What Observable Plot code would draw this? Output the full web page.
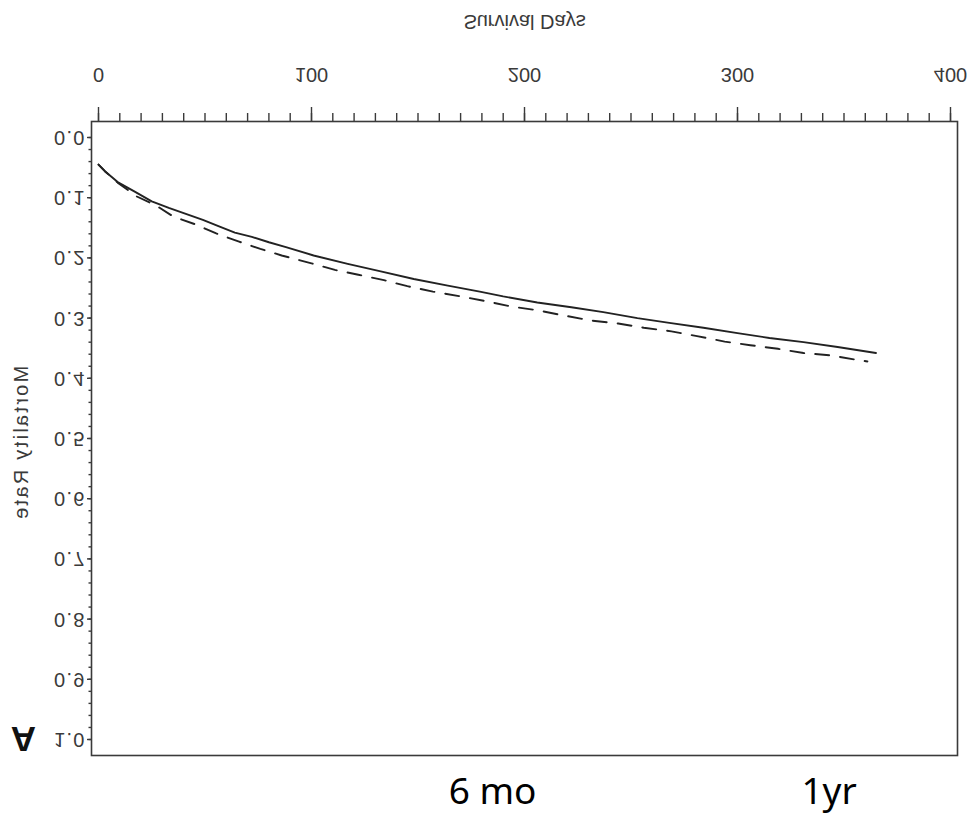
<!DOCTYPE html>
<html>
<head>
<meta charset="utf-8">
<script src="https://cdn.jsdelivr.net/npm/d3@7"></script>
<script src="https://cdn.jsdelivr.net/npm/@observablehq/plot@0.6"></script>
<style>
  html, body { margin: 0; padding: 0; background: #fff; }
  #chart { position: relative; width: 973px; height: 814px; }
  #chart svg { display: block; }
  #chart svg.notes { position: absolute; left: 0; top: 757px; background: transparent; }
</style>
</head>
<body>
<div id="chart"></div>
<script>
// Survival days on x, cumulative mortality on y (two groups)
const solidDays = [0, 3, 9, 17, 25, 33, 41, 49, 56, 64, 72, 80, 88, 101, 117, 132, 148, 164, 179, 190, 206, 222, 237, 253, 268, 284, 300, 315, 331, 347, 365];
const solidRate = [0.045, 0.056, 0.074, 0.090, 0.106, 0.117, 0.127, 0.137, 0.147, 0.158, 0.165, 0.174, 0.182, 0.196, 0.210, 0.222, 0.235, 0.246, 0.256, 0.264, 0.274, 0.282, 0.290, 0.300, 0.308, 0.316, 0.325, 0.333, 0.340, 0.348, 0.358];

const dashedDays = [0, 3, 9, 18, 27, 35, 46, 55, 66, 76, 86, 100, 111, 122, 134, 145, 157, 170, 182, 194, 206, 219, 231, 244, 256, 269, 281, 294, 306, 319, 331, 344, 357, 361];
const dashedRate = [0.045, 0.056, 0.075, 0.098, 0.113, 0.131, 0.145, 0.159, 0.173, 0.185, 0.196, 0.209, 0.220, 0.228, 0.237, 0.247, 0.256, 0.264, 0.272, 0.281, 0.287, 0.296, 0.304, 0.309, 0.316, 0.322, 0.330, 0.339, 0.345, 0.351, 0.358, 0.362, 0.370, 0.372];

const xMajorTicks = [0, 100, 200, 300, 400];
const xMinorTicks = d3.range(0, 401, 10);
const yMajorTicks = [0, 0.1, 0.2, 0.3, 0.4, 0.5, 0.6, 0.7, 0.8, 0.9, 1.0];
const yMinorTicks = d3.range(0, 51).map(i => i / 50);

const markerDays = [185, 343];
const markerLabels = ["6 mo", "1yr"];

const solid = solidDays.map((d, i) => ({day: d, rate: solidRate[i]}));
const dashed = dashedDays.map((d, i) => ({day: d, rate: dashedRate[i]}));
const markers = markerDays.map((d, i) => ({day: d, label: markerLabels[i]}));

const font = "Liberation Sans, Arial, sans-serif";
const ink = "#3a3a3a";
const yFormat = d3.format(".1f");

const main = Plot.plot({
  width: 973,
  height: 770,
  marginTop: 14,
  marginBottom: 122,
  marginLeft: 91,
  marginRight: 16,
  style: {fontFamily: font, fontSize: "20px", color: ink, background: "white"},
  x: {domain: [0, 400], inset: 7},
  y: {domain: [0, 1], inset: 16},
  marks: [
    Plot.frame({stroke: ink, strokeWidth: 1.6}),
    Plot.axisX(xMinorTicks, {tickSize: 9, fill: "none", strokeWidth: 1.4, label: null}),
    Plot.axisX(xMajorTicks, {tickSize: 15, tickPadding: 24, strokeWidth: 1.4, fontSize: 20, label: null}),
    Plot.axisY(yMinorTicks, {tickSize: 2.5, fill: "none", strokeWidth: 1.4, label: null}),
    Plot.axisY(yMajorTicks, {tickSize: 4, tickPadding: 2, tickFormat: yFormat, fontSize: 20, strokeWidth: 1.4, label: null}),
    Plot.text(["Survival Days"], {frameAnchor: "bottom", lineAnchor: "top", dy: 92, fontSize: 20, fill: ink}),
    Plot.text(["Mortality Rate"], {frameAnchor: "left", textAnchor: "middle", rotate: -90, dx: -70, dy: -5, fontSize: 20, fill: ink}),
    Plot.text(["A"], {frameAnchor: "top-left", textAnchor: "middle", lineAnchor: "middle", dx: -68, dy: 17, fontSize: 35, fontWeight: 900, fill: "#111"}),
    Plot.line(solid, {x: "day", y: "rate", stroke: "#222", strokeWidth: 1.9}),
    Plot.line(dashed, {x: "day", y: "rate", stroke: "#222", strokeWidth: 1.9, strokeDasharray: "14,11"})
  ]
});

// Wider letter spacing on the y tick labels and the y title
const yLabelTexts = new Set(yMajorTicks.map(yFormat));
d3.select(main).selectAll("text").each(function() {
  const t = this.textContent;
  if (t === "Mortality Rate") this.setAttribute("letter-spacing", "2.3");
  else if (yLabelTexts.has(t)) this.setAttribute("letter-spacing", "1.2");
});

// The plot is drawn with 0 at the bottom and then mirrored top-to-bottom
main.style.transform = "scaleY(-1)";

const notes = Plot.plot({
  width: 973,
  height: 57,
  marginTop: 0,
  marginBottom: 0,
  marginLeft: 91,
  marginRight: 16,
  style: {fontFamily: "Noto Sans, Open Sans, sans-serif", background: "transparent", color: "#000"},
  x: {domain: [0, 400], inset: 7, axis: null},
  marks: [
    Plot.text(markers, {x: "day", text: "label", frameAnchor: "top", lineAnchor: "top", dy: 20, fontSize: 37, fill: "#000"})
  ]
});
notes.classList.add("notes");

const root = document.getElementById("chart");
root.appendChild(main);
root.appendChild(notes);
</script>
</body>
</html>
